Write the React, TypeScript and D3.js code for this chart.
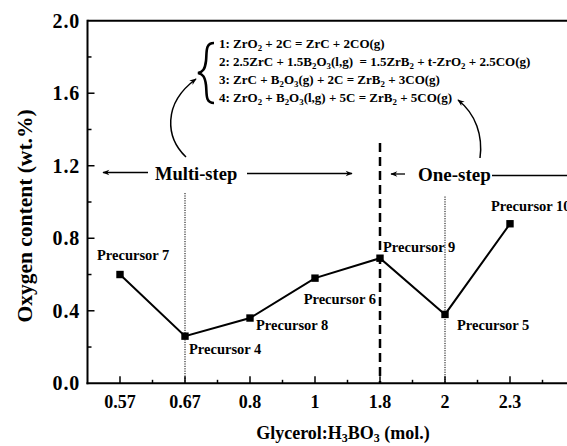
import React from "react";
import * as d3 from "d3";

const categories = ["0.57", "0.67", "0.8", "1", "1.8", "2", "2.3"];
const oxygen = [0.6, 0.26, 0.36, 0.58, 0.69, 0.38, 0.88];
const precursorLabels = ["Precursor 7", "Precursor 4", "Precursor 8", "Precursor 6", "Precursor 9", "Precursor 5", "Precursor 10"];
const yTicks = [0, 0.2, 0.4, 0.6, 0.8, 1.0, 1.2, 1.4, 1.6, 1.8, 2.0];
const equations = [
  "1: ZrO_2 + 2C = ZrC + 2CO(g)",
  "2: 2.5ZrC + 1.5B_2O_3(l,g)  = 1.5ZrB_2 + t-ZrO_2 + 2.5CO(g)",
  "3: ZrC + B_2O_3(g) + 2C = ZrB_2 + 3CO(g)",
  "4: ZrO_2 + B_2O_3(l,g) + 5C = ZrB_2 + 5CO(g)",
];
const dividerAt = 4; // index of 1.8 (dashed)
const dottedAt = [1, 5]; // 0.67 and 2

// label layout offsets (dx, dy, anchor) relative to the point
const labelLayout: [number, number, string][] = [
  [-23, -15, "start"],
  [4, 18, "start"],
  [6, 12, "start"],
  [61, 26, "end"],
  [3, -6, "start"],
  [12, 16, "start"],
  [-19, -13, "start"],
];

const W = 567;
const H = 446;
const FONT = "'Liberation Serif', 'Times New Roman', serif";

function Sub({ text, x, y, size }: { text: string; x: number; y: number; size: number }) {
  const parts = text.split(/_(\d)/);
  const out: React.ReactNode[] = [];
  parts.forEach((p, i) => {
    if (i % 2 === 0) {
      if (p.length) out.push(<tspan key={i} dy={i > 0 ? -size * 0.28 : 0}>{p}</tspan>);
      else if (i > 0) out.push(<tspan key={i} dy={-size * 0.28}>{""}</tspan>);
    } else {
      out.push(
        <tspan key={i} dy={size * 0.28} fontSize={size * 0.68}>
          {p}
        </tspan>
      );
    }
  });
  return (
    <text x={x} y={y} fontSize={size} fontFamily={FONT} fontWeight="bold" fill="#000" style={{ whiteSpace: "pre" }}>
      {out}
    </text>
  );
}

export default function App() {
  const x = d3.scaleLinear().domain([-0.5, 7.5]).range([87.5, 607.5]);
  const y = d3.scaleLinear().domain([0, 2]).range([383.3, 20.7]);
  const line = d3
    .line<number>()
    .x((_, i) => x(i))
    .y((d) => y(d));

  const x0 = x(-0.5);
  const xR = x(7.5);
  const y0 = y(0);
  const yTop = y(2);

  return (
    <svg width={W} height={H} style={{ position: "absolute", left: 0, top: 0, background: "#fff" }}>
      <defs>
        <marker id="ah" viewBox="0 0 10 10" refX="9" refY="5" markerWidth="10" markerHeight="7" markerUnits="userSpaceOnUse" orient="auto">
          <path d="M0,1 L10,5 L0,9 L3,5 Z" fill="#000" />
        </marker>
      </defs>
      <rect x={0} y={0} width={W} height={H} fill="#fff" />

      {/* frame */}
      <line x1={x0} y1={yTop} x2={xR} y2={yTop} stroke="#000" strokeWidth={2} />
      <line x1={x0} y1={yTop - 1} x2={x0} y2={y0 + 1} stroke="#000" strokeWidth={2} />
      <line x1={x0 - 1} y1={y0} x2={xR} y2={y0} stroke="#000" strokeWidth={2} />

      {/* y ticks */}
      {yTicks.map((t, i) => {
        const major = i % 2 === 0;
        return (
          <g key={"yt" + i}>
            {t > 0 && t < 2 && (
              <line x1={x0} x2={x0 + (major ? 7 : 4)} y1={y(t)} y2={y(t)} stroke="#000" strokeWidth={1.5} />
            )}
            {major && (
              <text x={80} y={y(t)} dy="0.35em" textAnchor="end" fontFamily={FONT} fontWeight="bold" fontSize={20} letterSpacing={0.8}>
                {t.toFixed(1)}
              </text>
            )}
          </g>
        );
      })}

      {/* x ticks */}
      {categories.map((c, i) => (
        <g key={"xt" + i}>
          <line x1={x(i)} x2={x(i)} y1={y0} y2={y0 - 7} stroke="#000" strokeWidth={1.5} />
          <line x1={x(i + 0.5)} x2={x(i + 0.5)} y1={y0} y2={y0 - 3.5} stroke="#000" strokeWidth={1.5} />
          <text x={x(i)} y={408} textAnchor="middle" fontFamily={FONT} fontWeight="bold" fontSize={18}>
            {c}
          </text>
        </g>
      ))}

      {/* axis titles */}
      <text x={343} y={438.5} textAnchor="middle" fontFamily={FONT} fontWeight="bold" fontSize={18}>
        Glycerol:H<tspan dy={3.5} fontSize={12}>3</tspan>
        <tspan dy={-3.5}>BO</tspan>
        <tspan dy={3.5} fontSize={12}>3</tspan>
        <tspan dy={-3.5}> (mol.)</tspan>
      </text>
      <text
        transform={`translate(32,216) rotate(-90)`}
        textAnchor="middle"
        fontFamily={FONT}
        fontWeight="bold"
        fontSize={21.5}
      >
        Oxygen content (wt.%)
      </text>

      {/* vertical reference lines */}
      <line x1={x(dividerAt)} x2={x(dividerAt)} y1={143} y2={y0} stroke="#000" strokeWidth={2.5} strokeDasharray="9,5" />
      {dottedAt.map((d) => (
        <line key={"dot" + d} x1={x(d)} x2={x(d)} y1={d === 1 ? 193 : 196.5} y2={y0} stroke="#000" strokeWidth={1} strokeDasharray="1.2,1.2" />
      ))}

      {/* series */}
      <path d={line(oxygen) || ""} fill="none" stroke="#000" strokeWidth={2} />
      {oxygen.map((v, i) => (
        <rect key={"m" + i} x={x(i) - 3.7} y={y(v) - 3.7} width={7.4} height={7.4} fill="#000" />
      ))}
      {oxygen.map((v, i) => (
        <text
          key={"l" + i}
          x={x(i) + labelLayout[i][0]}
          y={y(v) + labelLayout[i][1]}
          textAnchor={labelLayout[i][2] as any}
          fontFamily={FONT}
          fontWeight="bold"
          fontSize={14.5}
        >
          {precursorLabels[i]}
        </text>
      ))}

      {/* multi-step / one-step annotations */}
      <line x1={148} y1={172.5} x2={103} y2={172.5} stroke="#000" strokeWidth={1.3} markerEnd="url(#ah)" />
      <text x={155} y={179.5} fontFamily={FONT} fontWeight="bold" fontSize={18.5}>
        Multi-step
      </text>
      <line x1={247} y1={173.5} x2={352} y2={173.5} stroke="#000" strokeWidth={1.3} markerEnd="url(#ah)" />
      <line x1={405} y1={174} x2={391} y2={174} stroke="#000" strokeWidth={1.3} markerEnd="url(#ah)" />
      <text x={418} y={180.5} fontFamily={FONT} fontWeight="bold" fontSize={19}>
        One-step
      </text>
      <line x1={492} y1={175.5} x2={610} y2={175.5} stroke="#000" strokeWidth={1.3} markerEnd="url(#ah)" />

      {/* curved arrows */}
      <path d="M186,157 C166,138 162,104 196,79" fill="none" stroke="#000" strokeWidth={1.5} markerEnd="url(#ah)" />
      <path d="M480,158 C483,136 476,114 458,100" fill="none" stroke="#000" strokeWidth={1.5} markerEnd="url(#ah)" />

      {/* brace */}
      <path
        d="M214,43 C205,43 207,52 206,61 C205,69 203,72 198,73 C203,74 205,77 206,85 C207,94 205,103 214,103"
        fill="none"
        stroke="#000"
        strokeWidth={2.6}
      />

      {/* equations */}
      {equations.map((e, i) => (
        <Sub key={"eq" + i} text={e} x={219} y={47.5 + i * 18} size={13} />
      ))}
    </svg>
  );
}
